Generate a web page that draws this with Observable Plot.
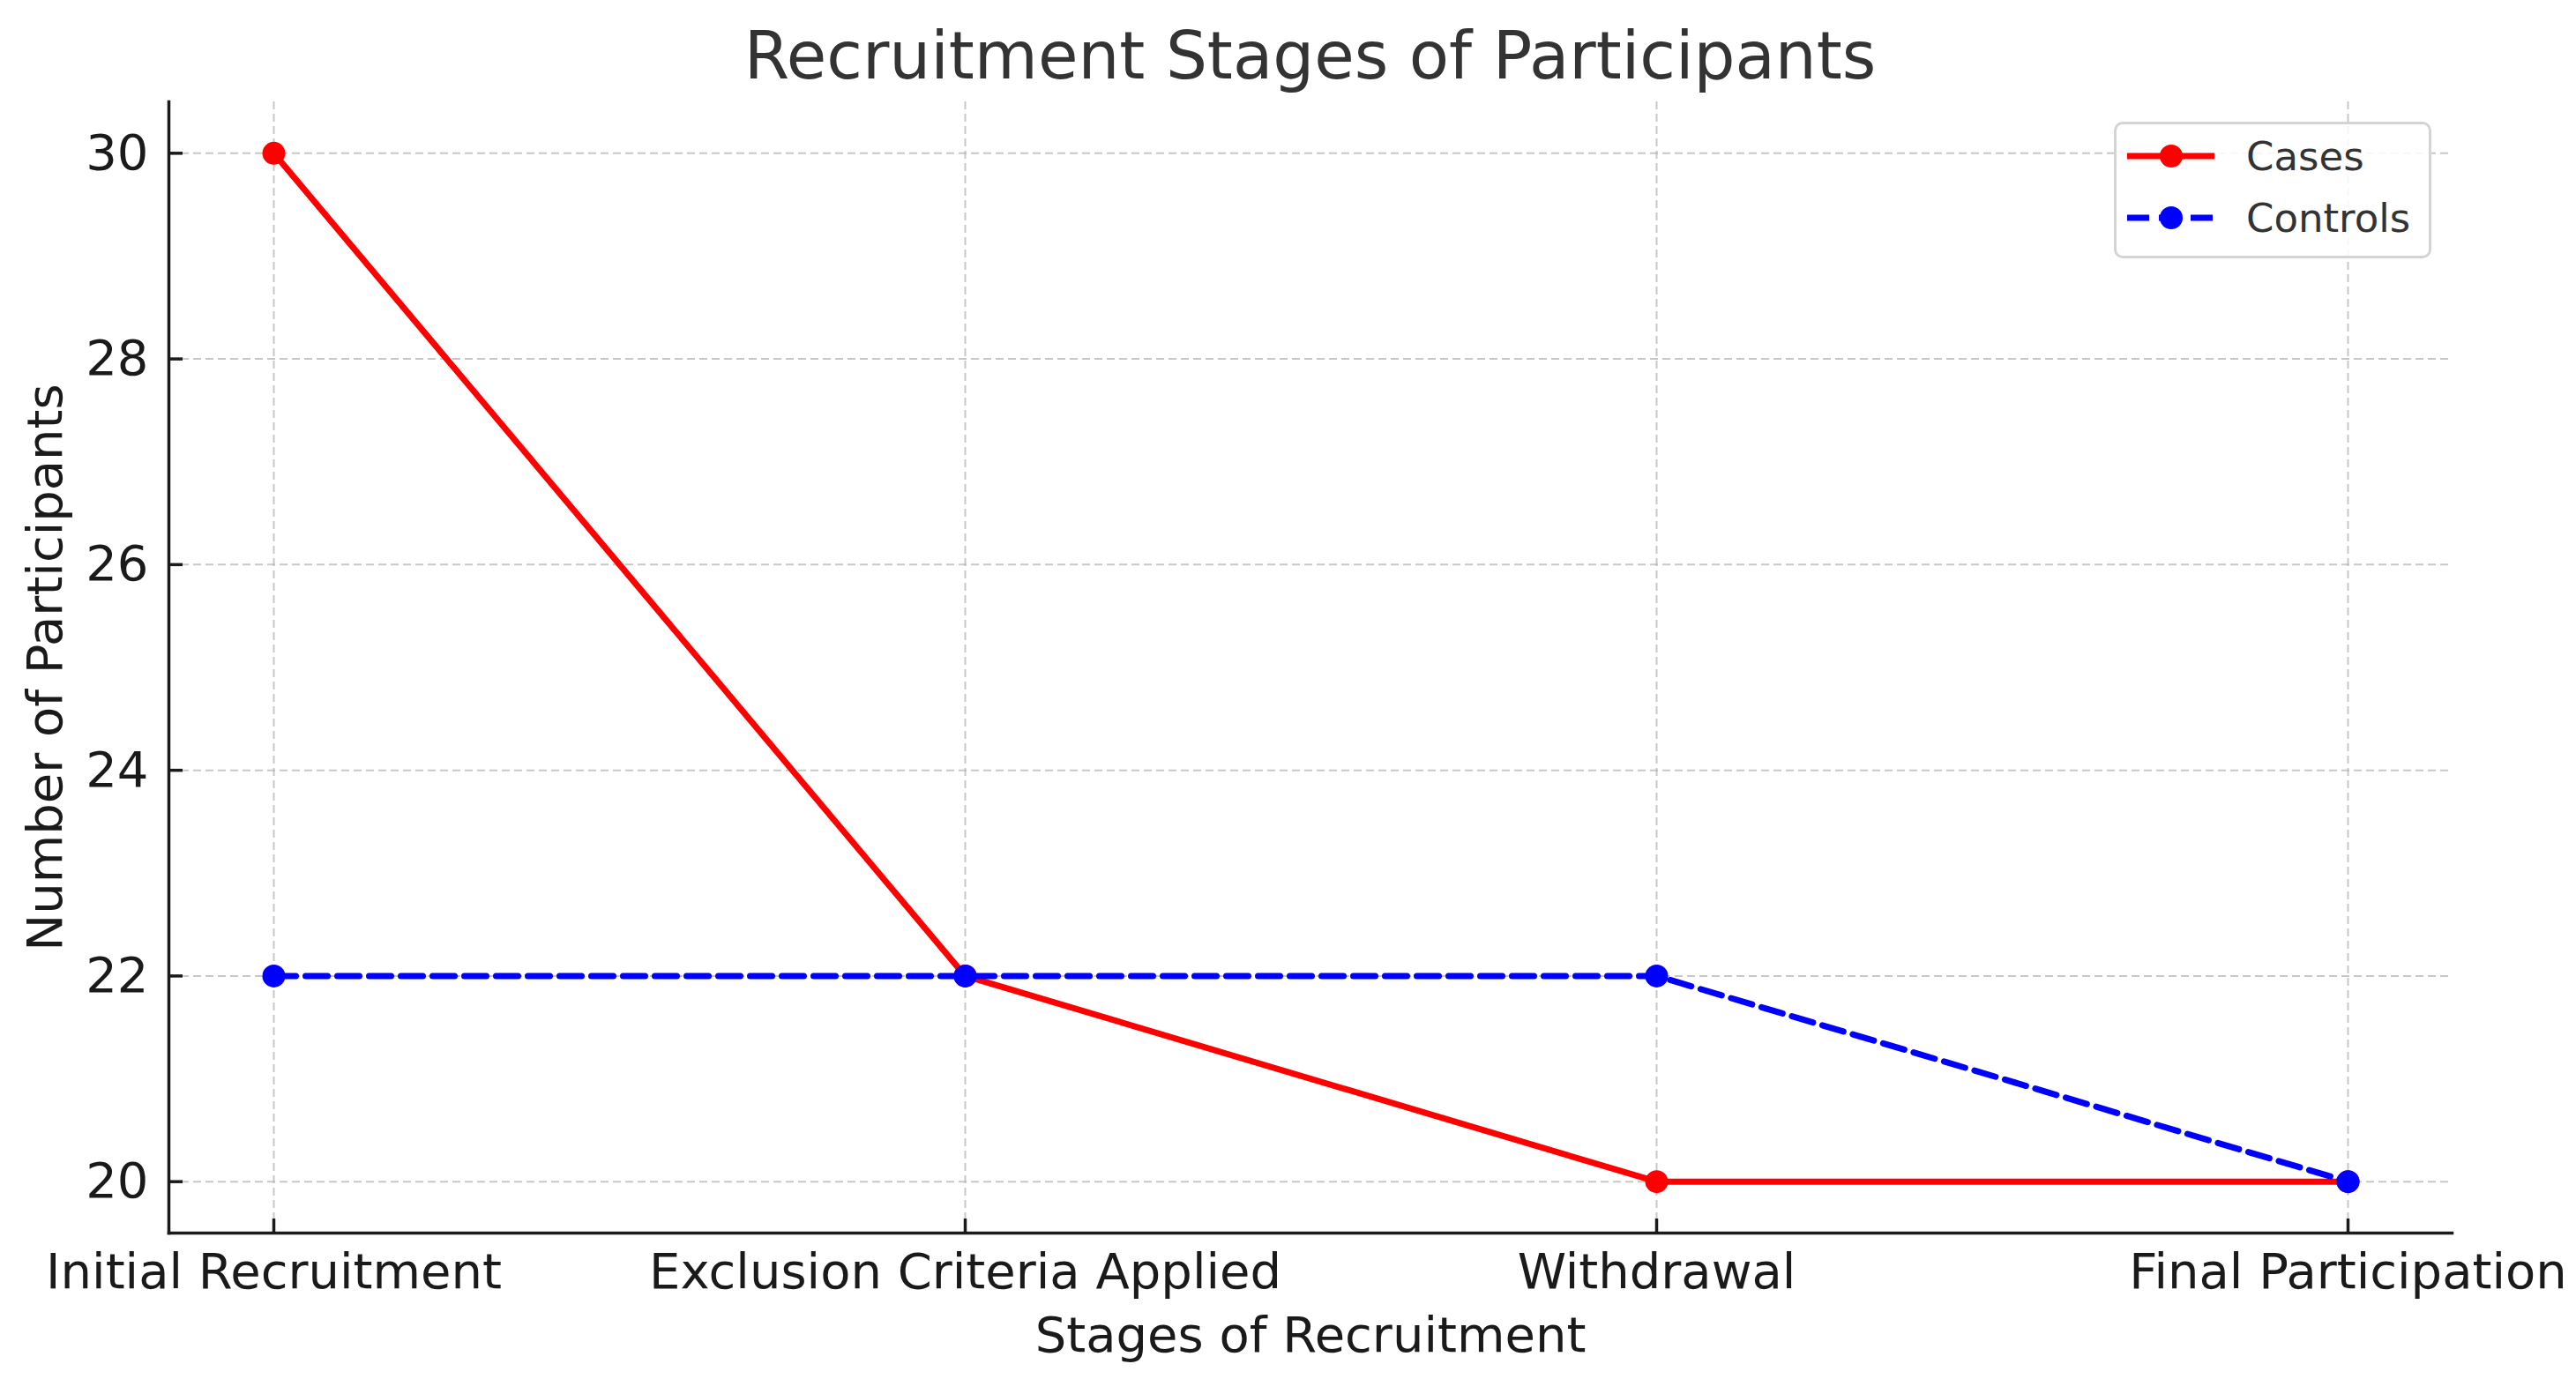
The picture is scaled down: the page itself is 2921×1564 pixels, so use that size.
<!DOCTYPE html>
<html><head><meta charset="utf-8">
<script src="https://cdn.jsdelivr.net/npm/d3@7"></script>
<script src="https://cdn.jsdelivr.net/npm/@observablehq/plot@0.6"></script>
<style>
body{margin:0;background:#fff;font-family:"DejaVu Sans",sans-serif;}
#wrap{position:relative;width:2921px;height:1564px;overflow:hidden;}
#title{position:absolute;left:191px;width:2589px;top:26px;text-align:center;font-size:74px;line-height:1;color:#333;white-space:nowrap;}
#legend{position:absolute;left:2397px;top:138px;width:354px;height:149px;border:3px solid #d4d4d4;border-radius:10px;background:rgba(255,255,255,0.85);}
#legend svg{position:absolute;left:0;top:0;}
</style></head><body>
<div id="wrap"><div id="chart"></div><div id="title">Recruitment Stages of Participants</div><div id="legend"></div></div>
<script>
const stages = ["Initial Recruitment","Exclusion Criteria Applied","Withdrawal","Final Participation"];
const cases = [30,22,20,20];
const controls = [22,22,22,20];
const yTicks = [20,22,24,26,28,30];
const seriesNames = ["Cases","Controls"];
const seriesColors = ["#ff0000","#0000ff"];
const seriesDash = [null,"25,11"];

const rows = stages.map((s,i)=>({stage:s, cases:cases[i], controls:controls[i]}));
const gridStyle = {stroke:"#b0b0b0", strokeOpacity:0.7, strokeWidth:2, strokeDasharray:"9,5"};

const W = 2921, H = 1564, mT = 115, mB = 166, mL = 191, mR = 141;
const frameW = W - mL - mR, frameH = H - mT - mB, tickLen = 16;
const axisColor = "#1a1a1a";

const plot = Plot.plot({
  width:W, height:H, marginTop:mT, marginBottom:mB, marginLeft:mL, marginRight:mR,
  style:{fontFamily:'"DejaVu Sans", sans-serif', fontSize:"56px", color:axisColor, background:"white"},
  x:{type:"point", domain:stages, padding:0.15},
  y:{domain:[19.5,30.5]},
  marks:[
    Plot.gridX(stages, gridStyle),
    Plot.gridY(yTicks, gridStyle),
    Plot.line(rows,{x:"stage",y:"cases",stroke:seriesColors[0],strokeWidth:7}),
    Plot.dot(rows,{x:"stage",y:"cases",r:13,fill:seriesColors[0]}),
    Plot.line(rows,{x:"stage",y:"controls",stroke:seriesColors[1],strokeWidth:7,strokeDasharray:seriesDash[1]}),
    Plot.dot(rows,{x:"stage",y:"controls",r:13,fill:seriesColors[1]}),
    // inward ticks
    Plot.tickX(stages,{x:d=>d, insetTop:frameH - tickLen, stroke:axisColor, strokeWidth:3.5}),
    Plot.tickY(yTicks,{y:d=>d, insetRight:frameW - tickLen, stroke:axisColor, strokeWidth:3.5}),
    // spines
    Plot.frame({anchor:"left", stroke:axisColor, strokeWidth:3.5}),
    Plot.frame({anchor:"bottom", stroke:axisColor, strokeWidth:3.5}),
    Plot.axisX({tickSize:0, tickPadding:23, label:"Stages of Recruitment", labelAnchor:"center", labelOffset:134, labelArrow:"none"}),
    Plot.axisY(yTicks,{tickSize:0, tickPadding:23, tickFormat:"d", label:"Number of Participants", labelAnchor:"center", labelOffset:161, labelArrow:"none"})
  ]
});
document.getElementById("chart").appendChild(plot);

// legend
const lsvg = d3.select("#legend").append("svg").attr("width",354).attr("height",149);
const rowY = [36,106];
seriesNames.forEach((name,i)=>{
  const g = lsvg.append("g").attr("transform",`translate(0,${rowY[i]})`);
  g.append("line").attr("x1",12).attr("x2",111).attr("y1",0).attr("y2",0)
    .attr("stroke",seriesColors[i]).attr("stroke-width",7)
    .attr("stroke-dasharray",seriesDash[i]);
  g.append("circle").attr("cx",62).attr("cy",0).attr("r",13).attr("fill",seriesColors[i]);
  g.append("text").attr("x",147).attr("y",0).attr("dy","0.36em")
    .attr("font-family",'"DejaVu Sans", sans-serif').attr("font-size",45).attr("fill","#333").text(name);
});
</script>
</body></html>
